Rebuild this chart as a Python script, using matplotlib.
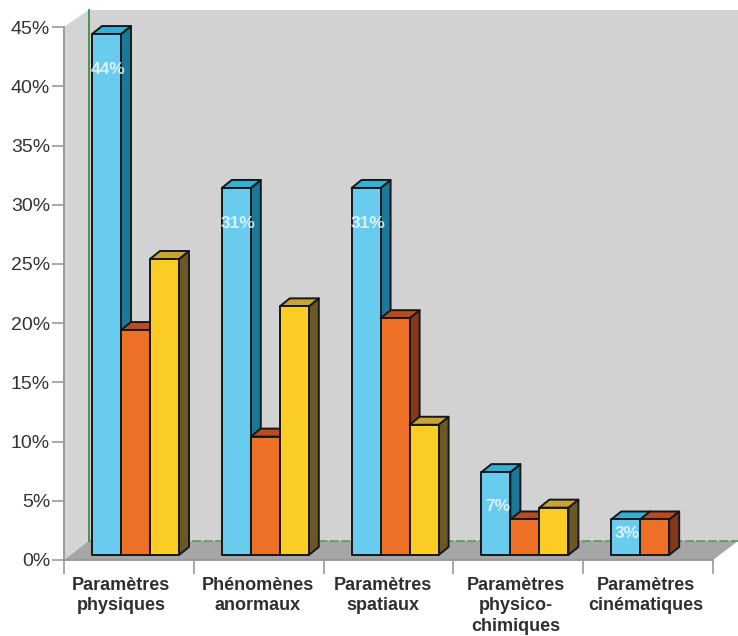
import matplotlib
matplotlib.use("Agg")
import matplotlib.pyplot as plt
from matplotlib.patches import Polygon

plt.rcParams['font.family'] = ['Liberation Sans', 'DejaVu Sans']

categories = ["Paramètres\nphysiques", "Phénomènes\nanormaux", "Paramètres\nspatiaux",
              "Paramètres\nphysico-\nchimiques", "Paramètres\ncinématiques"]
blue_values = [44, 31, 31, 7, 3]
orange_values = [19, 10, 20, 3, 3]
yellow_values = [25, 21, 11, 4, None]
blue_labels = ["44%", "31%", "31%", "7%", "3%"]
label_drop = [3.0, 3.0, 3.0, 2.9, 1.2]
label_shift = [0.44, 1.49, 2.46, 3.48, 4.48]
y_ticks = [0, 5, 10, 15, 20, 25, 30, 35, 40, 45]

W, H = 738, 636
PX_X = 649 / 5          # pixels per category
PX_Y = 11.84            # pixels per percentage point
dx = lambda px: px / PX_X
dy = lambda px: px / PX_Y

BLUE = ("#69cbee", "#35afd2", "#1b7896")
ORANGE = ("#ee7026", "#b84c20", "#84391a")
YELLOW = ("#fbcd24", "#c9a432", "#6c5726")
EDGE = "#15181a"

fig = plt.figure(figsize=(W / 100, H / 100), dpi=100, facecolor="white")
ax = fig.add_axes([64 / W, (H - 560) / H, 649 / W, 550 / H])
ax.set_xlim(0, 5)
ax.set_ylim(0, 550 / PX_Y)
ax.patch.set_visible(False)

# Chart box: side wall, back wall, floor
depth_x, depth_y = dx(24.5), dy(19)
top = 550 / PX_Y
right_edge = 5 + dx(25)


def poly(points, color, z, edge="none", lw=0):
    ax.add_patch(Polygon(points, closed=True, facecolor=color, edgecolor=edge,
                         linewidth=lw, clip_on=False, zorder=z, joinstyle="round"))


poly([(0, 0), (depth_x, depth_y), (depth_x, top), (0, top - depth_y + dy(2))], "#d4d4d4", 1)
poly([(depth_x, depth_y), (right_edge, depth_y), (right_edge, top), (depth_x, top)], "#d2d2d2", 1)
poly([(0, 0), (depth_x, depth_y), (right_edge, depth_y), (5, 0)], "#a6a6a6", 1)
ax.plot([depth_x, depth_x], [depth_y, top], color="#3f8a4a", lw=1.3, zorder=2, clip_on=False)
ax.plot([depth_x, right_edge], [depth_y, depth_y], color="#4d9a55", lw=1.1,
        ls=(0, (6, 1.5)), zorder=2, clip_on=False)


def bar3d(x0, value, colors, z):
    w = dx(29)
    ox, oy = dx(10), dy(8)
    base = dy(5)
    h = base + value
    poly([(x0 + w, base), (x0 + w + ox, base + oy), (x0 + w + ox, h + oy), (x0 + w, h)],
         colors[2], z, EDGE, 1.4)
    poly([(x0, h), (x0 + ox, h + oy), (x0 + w + ox, h + oy), (x0 + w, h)],
         colors[1], z, EDGE, 1.4)
    poly([(x0, base), (x0 + w, base), (x0 + w, h), (x0, h)], colors[0], z + 0.1, EDGE, 1.4)


for i in range(len(categories)):
    x0 = i + dx(28)
    for j, (vals, colors) in enumerate([(blue_values, BLUE), (orange_values, ORANGE),
                                        (yellow_values, YELLOW)]):
        if vals[i] is not None:
            bar3d(x0 + j * dx(29), vals[i], colors, 3 + j)
    ax.text(x0 + dx(16), dy(5) + blue_values[i] - label_drop[i], blue_labels[i], color="#eef8fc",
            fontsize=12.5, fontweight="bold", ha="center", va="center", zorder=8, alpha=0.85)

# Axes, ticks, labels
for side in ("top", "right"):
    ax.spines[side].set_visible(False)
for side in ("left", "bottom"):
    ax.spines[side].set_color("#9a9a9a")
    ax.spines[side].set_linewidth(1.4)
    ax.spines[side].set_zorder(2)
ax.spines["left"].set_bounds(0, 45)

ax.set_yticks(y_ticks)
ax.set_yticklabels([f"{v}%" for v in y_ticks], fontsize=14, color="#333333")
ax.tick_params(axis="y", length=9, width=1.2, color="#9a9a9a", pad=1)

ax.set_xticks(range(6))
ax.set_xticklabels([])
ax.tick_params(axis="x", length=10, width=1.2, color="#9a9a9a")
ax.set_xticks(label_shift, minor=True)
ax.set_xticklabels(categories, minor=True, fontsize=13, fontweight="bold", color="#2f2f2f",
                   linespacing=1.24)
ax.tick_params(axis="x", which="minor", length=0, pad=12.5)

fig.savefig("out.png", dpi=100, facecolor="white")
